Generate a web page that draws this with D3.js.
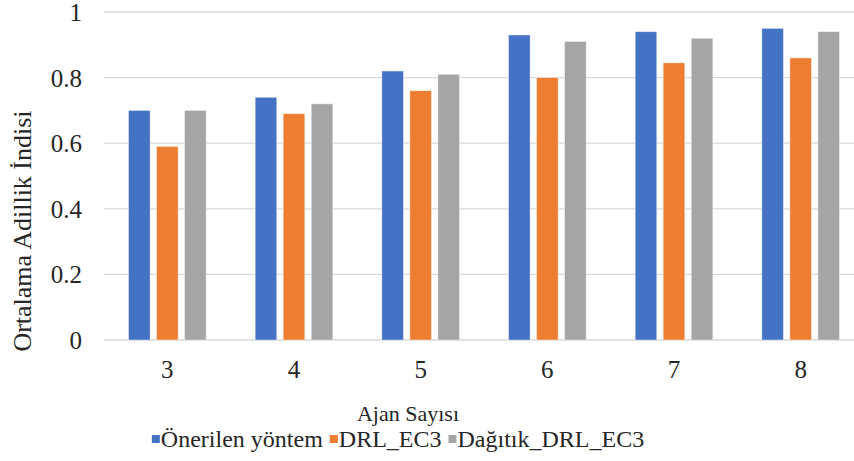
<!DOCTYPE html>
<html>
<head>
<meta charset="utf-8">
<script src="https://cdn.jsdelivr.net/npm/d3@7"></script>
<style>
  #chart text { font-family: "Liberation Serif", "Times New Roman", serif !important; }
</style>
</head>
<body style="margin:0;background:#fff">
<svg id="chart" width="854" height="461" style="display:block"></svg>
<script>
// Number of agents on the x axis
const categories = ["3", "4", "5", "6", "7", "8"];
// Series names as shown in the legend
const seriesNames = ["Önerilen yöntem", "DRL_EC3", "Dağıtık_DRL_EC3"];
// Average fairness index per method
const proposed    = [0.70, 0.74, 0.82, 0.93, 0.94, 0.95];
const drlEc3      = [0.59, 0.69, 0.76, 0.80, 0.845, 0.86];
const distributed = [0.70, 0.72, 0.81, 0.91, 0.92, 0.94];
const yTicks = [0, 0.2, 0.4, 0.6, 0.8, 1];
const colors = ["#4472C4", "#ED7D31", "#A5A5A5"];

const FONT = "Liberation Serif";
const TEXT = "#262626";

const seriesValues = [proposed, drlEc3, distributed];
const rows = categories.map((c, i) => ({
  cat: c,
  vals: seriesValues.map((s, k) => ({ k, v: s[i] }))
}));

const svg = d3.select("#chart");
const plot = { left: 104, right: 864, top: 12, bottom: 340 };

const x = d3.scaleBand().domain(categories).range([plot.left, plot.right])
  .paddingInner(0.387).paddingOuter(0.1935);
const xs = d3.scaleBand().domain(d3.range(seriesNames.length))
  .range([0, x.bandwidth()]).paddingInner(0.23);
const y = d3.scaleLinear().domain([0, 1]).range([plot.bottom, plot.top]);

function styleText(sel, size) {
  sel.attr("font-family", FONT).attr("font-size", size)
    .style("font-size", size + "px").attr("fill", TEXT);
}

// Horizontal gridlines
svg.append("g")
  .selectAll("line").data(yTicks).join("line")
  .attr("x1", plot.left).attr("x2", 854)
  .attr("y1", d => y(d)).attr("y2", d => y(d))
  .attr("stroke", "#d9d9d9").attr("stroke-width", 1.3);

// Y tick labels
const yAxis = d3.axisLeft(y).tickValues(yTicks).tickSize(0).tickPadding(0)
  .tickFormat(d => d === 0 ? "0" : d === 1 ? "1" : d3.format(".1f")(d));
const gy = svg.append("g").attr("transform", "translate(82,0)").call(yAxis);
gy.select(".domain").remove();
gy.attr("font-family", FONT).attr("font-size", 25);
gy.selectAll("text").call(styleText, 25).attr("dy", "0.34em");

// Bars
svg.append("g").selectAll("g").data(rows).join("g")
  .attr("transform", d => `translate(${x(d.cat)},0)`)
  .selectAll("rect").data(d => d.vals).join("rect")
  .attr("x", d => xs(d.k))
  .attr("width", xs.bandwidth())
  .attr("y", d => y(d.v))
  .attr("height", d => y(0) - y(d.v))
  .attr("fill", d => colors[d.k])
  .attr("stroke", "#ffffff").attr("stroke-opacity", 0.5).attr("stroke-width", 0.8);

// X tick labels
const xAxis = d3.axisBottom(x).tickSize(0).tickPadding(0);
const gx = svg.append("g").attr("transform", "translate(0,378)").call(xAxis);
gx.select(".domain").remove();
gx.attr("font-family", FONT).attr("font-size", 25);
gx.selectAll("text").call(styleText, 25).attr("dy", 0);

// Axis titles
svg.append("text")
  .attr("x", 408).attr("y", 421)
  .attr("text-anchor", "middle").call(styleText, 22)
  .text("Ajan Sayısı");

svg.append("text")
  .attr("transform", "translate(31,231) rotate(-90)")
  .attr("text-anchor", "middle").call(styleText, 26)
  .text("Ortalama Adillik İndisi");

// Legend
const legend = svg.append("g").attr("transform", "translate(0,447)");
const items = legend.selectAll("g").data(seriesNames).join("g");
items.append("rect").attr("width", 8).attr("height", 8).attr("y", -12)
  .attr("fill", (d, i) => colors[i]);
items.append("text").attr("x", 9).call(styleText, 24).text(d => d);
const widths = [];
items.each(function () {
  widths.push(9 + d3.select(this).select("text").node().getComputedTextLength());
});
const gap = 7;
const total = d3.sum(widths) + gap * (widths.length - 1);
let cx = 398 - total / 2;
items.attr("transform", (d, i) => {
  const t = `translate(${cx},0)`;
  cx += widths[i] + gap;
  return t;
});
</script>
</body>
</html>
